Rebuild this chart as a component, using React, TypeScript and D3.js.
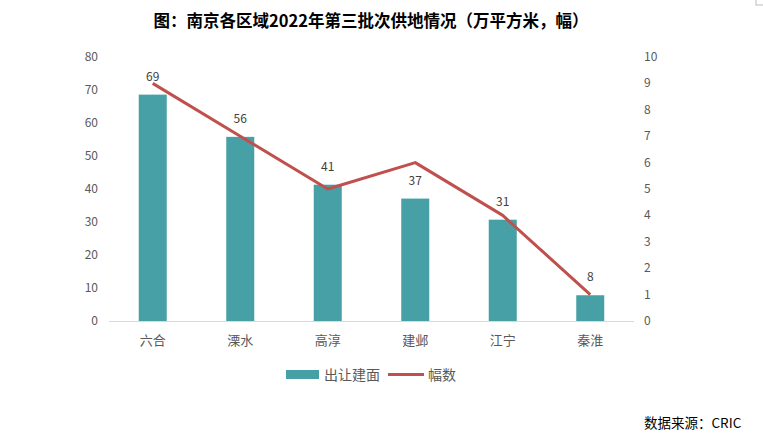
import React from "react";
import * as d3 from "d3";

const categories = ["六合", "溧水", "高淳", "建邺", "江宁", "秦淮"];
const areaValues = [68.6, 55.8, 41.3, 37.1, 30.7, 7.8];
const countValues = [9, 7, 5, 6, 4, 1];
const leftTicks = [0, 10, 20, 30, 40, 50, 60, 70, 80];
const rightTicks = [0, 1, 2, 3, 4, 5, 6, 7, 8, 9, 10];
const title = "图：南京各区域2022年第三批次供地情况（万平方米，幅）";
const seriesNames = ["出让建面", "幅数"];
const source = "数据来源：CRIC";

export default function App() {
  const W = 763, H = 445;
  const left = 109, right = 634, top = 57, bottom = 321;
  const x = d3.scaleBand().domain(categories).range([left, right]).paddingInner(0).paddingOuter(0);
  const yL = d3.scaleLinear().domain([0, 80]).range([bottom, top]);
  const yR = d3.scaleLinear().domain([0, 10]).range([bottom, top]);
  const barW = 28;
  const cx = (c: string) => (x(c) as number) + x.bandwidth() / 2;
  const line = d3.line<number>().x((_, i) => cx(categories[i])).y((d) => yR(d));
  const font = "'Noto Sans CJK SC', 'Noto Sans', sans-serif";
  const fmt = d3.format(".0f");
  return (
    <svg width={W} height={H} style={{ position: "absolute", left: 0, top: 0, background: "#fff" }}>
      <rect x={0} y={0} width={W} height={H} fill="#fff" />
      <rect x={756} y={-1} width={8} height={6} fill="none" stroke="#bbb" />
      <text x={371} y={27} textAnchor="middle" fontFamily={font} fontWeight="bold" fontSize={16.5} fill="#000">{title}</text>
      {leftTicks.map((t) => (
        <text key={"l" + t} x={98} y={yL(t) + 4} textAnchor="end" fontFamily={font} fontSize={12} fill="#595959">{t}</text>
      ))}
      {rightTicks.map((t) => (
        <text key={"r" + t} x={644} y={yR(t) + 4} textAnchor="start" fontFamily={font} fontSize={12} fill="#595959">{t}</text>
      ))}
      <line x1={left} x2={right} y1={bottom + 0.5} y2={bottom + 0.5} stroke="#d9d9d9" strokeWidth={1} />
      {categories.map((c, i) => (
        <rect key={c} x={cx(c) - barW / 2} y={yL(areaValues[i])} width={barW} height={bottom - yL(areaValues[i])} fill="#46A0A5" />
      ))}
      <path d={line(countValues) || ""} fill="none" stroke="#C0504D" strokeWidth={3} strokeLinejoin="round" />
      {categories.map((c, i) => (
        <text key={"v" + c} x={cx(c)} y={yL(areaValues[i]) - 14} textAnchor="middle" fontFamily={font} fontSize={12} fill="#404040">{fmt(areaValues[i])}</text>
      ))}
      {categories.map((c) => (
        <text key={"c" + c} x={cx(c)} y={345} textAnchor="middle" fontFamily={font} fontSize={13} fill="#595959">{c}</text>
      ))}
      <rect x={286} y={370} width={33} height={9} fill="#46A0A5" />
      <text x={324} y={380} fontFamily={font} fontSize={14} fill="#595959">{seriesNames[0]}</text>
      <line x1={388} x2={424} y1={374.5} y2={374.5} stroke="#C0504D" strokeWidth={3} />
      <text x={428} y={380} fontFamily={font} fontSize={14} fill="#595959">{seriesNames[1]}</text>
      <text x={644} y={428} fontFamily={font} fontSize={13.5} fill="#000">{source}</text>
    </svg>
  );
}
